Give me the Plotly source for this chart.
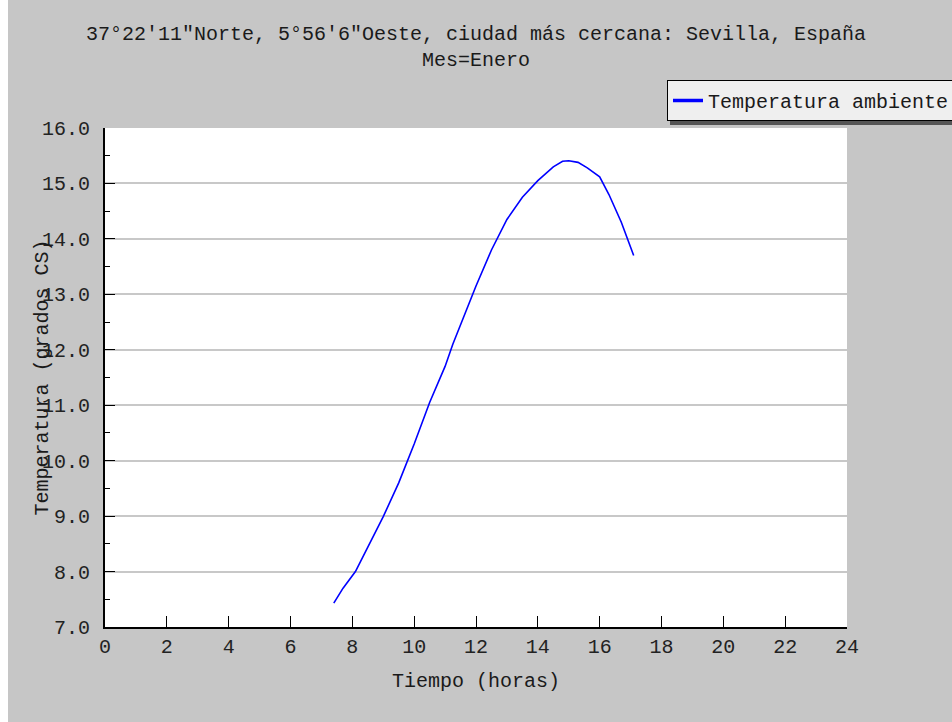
import plotly.graph_objects as go

# Data
hours = [7.4, 7.7, 8.1, 8.5, 9.0, 9.5, 10.0, 10.5, 11.0, 11.25, 11.5, 12.0, 12.5,
         13.0, 13.5, 14.0, 14.5, 14.8, 15.0, 15.3, 15.6, 16.0, 16.3, 16.7, 17.1]
temperature = [7.43, 7.7, 8.0, 8.45, 8.99, 9.6, 10.3, 11.05, 11.7, 12.1, 12.45, 13.15, 13.8,
               14.35, 14.75, 15.05, 15.3, 15.4, 15.41, 15.38, 15.28, 15.12, 14.8, 14.3, 13.7]
x_ticks = list(range(0, 25, 2))
y_ticks = [7, 8, 9, 10, 11, 12, 13, 14, 15, 16]
y_tick_labels = [f"{v:.1f}" for v in y_ticks]

series_name = "Temperatura ambiente"
title_line1 = "37°22′11\"Norte, 5°56′6\"Oeste, ciudad más cercana: Sevilla, España"
title_line2 = "Mes=Enero"
x_title = "Tiempo (horas)"
y_title = "Temperatura (grados CS)"

FONT = "Liberation Mono"
W, H = 952, 722
L, R, T, B = 105, 105, 128, 95
PW, PH = W - L - R, H - T - B


def px_x(p):
    return (p - L) / PW


def px_y(p):
    return (H - B - p) / PH


fig = go.Figure()
fig.add_trace(go.Scatter(
    x=hours, y=temperature, mode="lines", name=series_name,
    line=dict(color="#0000ff", width=1.6), showlegend=False, legendgroup="t",
))
# legend entry (thicker sample line, as in the reference)
fig.add_trace(go.Scatter(
    x=[None], y=[None], mode="lines", name=series_name,
    line=dict(color="#0000ff", width=3.5), showlegend=True, legendgroup="t",
))

fig.update_layout(
    width=W, height=H,
    margin=dict(l=L, r=R, t=T, b=B, autoexpand=False),
    paper_bgcolor="#c6c6c6",
    plot_bgcolor="#ffffff",
    font=dict(family=FONT, size=20, color="#000000"),
    title=dict(
        text=title_line1 + "<br>" + title_line2,
        x=0.5, xanchor="center", xref="paper",
        y=1 - 40 / H, yanchor="middle", yref="container",
        font=dict(family=FONT, size=20, color="#1a1a1a"),
    ),
    xaxis=dict(
        range=[0, 24], tickvals=x_ticks, ticktext=[str(v) for v in x_ticks],
        ticks="inside", ticklen=11, tickwidth=1, tickcolor="#000000",
        showline=True, linecolor="#000000", linewidth=2,
        showgrid=False, zeroline=False,
        tickfont=dict(family=FONT, size=20, color="#222222"),
        title=dict(text=x_title, standoff=15, font=dict(family=FONT, size=20, color="#1a1a1a")),
    ),
    yaxis=dict(
        range=[7, 16], tickvals=y_ticks, ticktext=y_tick_labels,
        ticks="inside", ticklen=10, tickwidth=1, tickcolor="#000000",
        minor=dict(dtick=0.5, tick0=7, ticks="inside", ticklen=5, tickcolor="#000000", showgrid=False),
        showline=True, linecolor="#000000", linewidth=2,
        showgrid=True, gridcolor="#c8c8c8", gridwidth=1.5, zeroline=False,
        tickfont=dict(family=FONT, size=20, color="#222222"),
        ticklabelstandoff=9,
    ),
    legend=dict(
        x=px_x(667), y=px_y(80), xanchor="left", yanchor="top",
        bgcolor="#efefef", bordercolor="#000000", borderwidth=1,
        font=dict(family=FONT, size=20, color="#1a1a1a"),
        itemwidth=30,
    ),
    annotations=[dict(
        text=y_title, textangle=-90, showarrow=False,
        xref="paper", yref="paper", x=px_x(42), y=0.5,
        xanchor="center", yanchor="middle",
        font=dict(family=FONT, size=20, color="#1a1a1a"),
    )],
    shapes=[
        # left white strip of the image
        dict(type="rect", xref="paper", yref="paper",
             x0=px_x(0), x1=px_x(8), y0=px_y(H), y1=px_y(0),
             fillcolor="#ffffff", line=dict(width=0), layer="below"),
        # legend shadow
        dict(type="rect", xref="paper", yref="paper",
             x0=px_x(670), x1=px_x(960), y0=px_y(125), y1=px_y(84),
             fillcolor="#555555", line=dict(width=0), layer="above"),
    ],
)

fig.write_html("out.html")
